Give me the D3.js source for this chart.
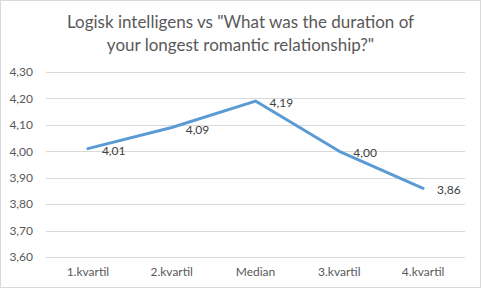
<!DOCTYPE html>
<html>
<head>
<meta charset="utf-8">
<script src="https://cdn.jsdelivr.net/npm/d3@7"></script>
<style>
  html, body { margin: 0; padding: 0; background: #fff; }
  svg { display: block; font-family: Lato, "Open Sans", sans-serif; }
</style>
</head>
<body>
<div id="graph"></div>
<script>
const categories = ["1.kvartil", "2.kvartil", "Median", "3.kvartil", "4.kvartil"];
const values = [4.01, 4.09, 4.19, 4.00, 3.86];
const yTicks = [3.6, 3.7, 3.8, 3.9, 4.0, 4.1, 4.2, 4.3];
const titleLines = ['Logisk intelligens vs "What was the duration of', 'your longest romantic relationship?"'];

const width = 481;
const height = 288;
const marginTop = 72;
const marginRight = 16;
const marginBottom = 31;
const marginLeft = 46;

const fmt = d => d.toFixed(2).replace(".", ",");

const xScale = d3.scaleBand()
                 .domain(categories)
                 .range([marginLeft, width - marginRight])

const yScale = d3.scaleLinear()
                 .domain([3.6, 4.3])
                 .range([height - marginBottom, marginTop])

const svg = d3.create("svg")
              .attr("width", width)
              .attr("height", height)

// border
svg.append("rect")
   .attr("x", 0.5).attr("y", 0.5)
   .attr("width", width - 1).attr("height", height - 1)
   .attr("fill", "#fff")
   .attr("stroke", "#d9d9d9")

// title
svg.append("text")
   .attr("text-anchor", "middle")
   .attr("fill", "#595959")
   .style("font-size", "17px")
   .selectAll("tspan")
   .data(titleLines)
   .join("tspan")
   .attr("x", width / 2)
   .attr("y", (d, i) => 28 + i * 23)
   .text(d => d)

// gridlines
svg.append("g")
   .selectAll("line")
   .data(yTicks)
   .join("line")
   .attr("x1", marginLeft)
   .attr("x2", width - marginRight)
   .attr("y1", d => Math.round(yScale(d)) + 0.5)
   .attr("y2", d => Math.round(yScale(d)) + 0.5)
   .attr("stroke", "#d9d9d9")

// y-axis
const yAxis = d3.axisLeft(yScale)
                .tickValues(yTicks)
                .tickFormat(fmt)
                .tickSize(0)
                .tickPadding(13)

svg.append("g")
   .attr("transform", `translate(${marginLeft}, 0)`)
   .call(yAxis)
   .call(g => g.select(".domain").remove())
   .call(g => g.selectAll("text")
               .attr("fill", "#595959")
               .style("font-size", "12px")
               .style("font-family", "Lato, sans-serif"))

// x-axis
const xAxis = d3.axisBottom(xScale)
                .tickSize(0)
                .tickPadding(10)

svg.append("g")
   .attr("transform", `translate(0, ${height - marginBottom})`)
   .call(xAxis)
   .call(g => g.select(".domain").remove())
   .call(g => g.selectAll("text")
               .attr("fill", "#595959")
               .style("font-size", "12px")
               .style("font-family", "Lato, sans-serif"))

const cx = (d, i) => xScale(categories[i]) + xScale.bandwidth() / 2

// line
const line = d3.line()
               .x(cx)
               .y(d => yScale(d))

svg.append("path")
   .datum(values)
   .attr("d", line)
   .attr("fill", "none")
   .attr("stroke", "#5b9bd5")
   .attr("stroke-width", 3)
   .attr("stroke-linejoin", "round")
   .attr("stroke-linecap", "round")

// labels
svg.append("g")
   .selectAll("text")
   .data(values)
   .join("text")
   .attr("x", (d, i) => cx(d, i) + 14)
   .attr("y", d => yScale(d) + 2)
   .attr("dy", "0.35em")
   .attr("fill", "#404040")
   .style("font-size", "12px")
   .text(fmt)

d3.select("#graph").append(() => svg.node());
</script>
</body>
</html>
